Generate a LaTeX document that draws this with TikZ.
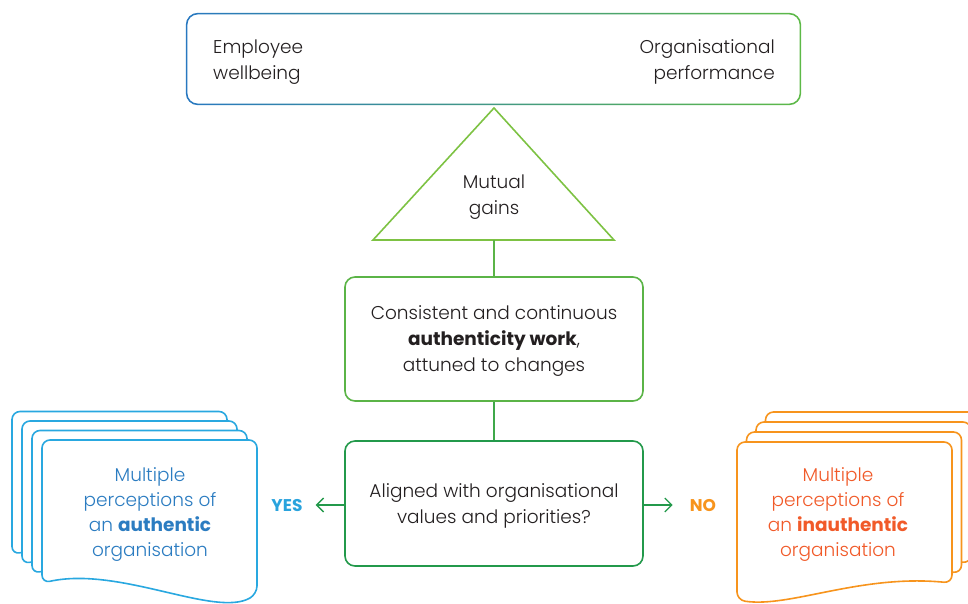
\documentclass[tikz,border=0pt]{standalone}
\usepackage{fontspec}
\setmainfont{Poppins}[UprightFont=* Light, BoldFont=* Bold]
\usetikzlibrary{arrows.meta}

\definecolor{textdark}{HTML}{231F20}
\definecolor{topblue}{HTML}{2878C0}
\definecolor{topgreen}{HTML}{5DB947}
\definecolor{trigreen}{HTML}{7DC243}
\definecolor{workgreen}{HTML}{5BB447}
\definecolor{linegreen}{HTML}{3FA84A}
\definecolor{alignedgreen}{HTML}{23994B}
\definecolor{blueedge}{HTML}{29A8E0}
\definecolor{bluetext}{HTML}{2B7CC1}
\definecolor{yesblue}{HTML}{29A3DD}
\definecolor{orangeedge}{HTML}{F7941D}
\definecolor{orangetext}{HTML}{F15A29}

\tikzset{
    box/.style={rectangle, rounded corners=10pt, line width=1.6pt, minimum width=298pt, minimum height=124pt, align=center, fill=white, text depth=-6pt},
    page/.style={fill=white, line width=1.6pt, rounded corners=8pt},
    pagetext/.style={align=center, font=\fontsize{18.5}{25}\selectfont},
    answer/.style={font=\fontsize{17}{20}\selectfont\bfseries, inner sep=0pt},
    arr/.style={-{Straight Barb[length=7pt,width=14pt]}, line width=1.3pt, draw=alignedgreen}
}

\begin{document}
\begin{tikzpicture}[x=1pt,y=-1pt, font=\fontsize{18.5}{26}\selectfont, text=textdark]
    \useasboundingbox (0,0) rectangle (968,603);

    % stack of pages, left
    \foreach \i in {3,2,1,0}{
        \draw[page, draw=blueedge, shift={({-10*\i},{-9.5*\i})}]
            (257,594) .. controls (215,618) and (120,566) .. (42,583)
            -- (42,440) -- (257,440) -- cycle;
    }
    % stack of pages, right
    \foreach \i in {3,2,1,0}{
        \draw[page, draw=orangeedge, shift={({9.5*\i},{-10*\i})}]
            (737,600) .. controls (790,608) and (860,574) .. (952,583)
            -- (952,442) -- (737,442) -- cycle;
    }
    \node[pagetext, text=bluetext] (authentic) at (150,515) {Multiple\\perceptions of\\an \textbf{authentic}\\organisation};
    \node[pagetext, text=orangetext] (inauthentic) at (838,515) {Multiple\\perceptions of\\an \textbf{inauthentic}\\organisation};

    % top box
    \node[rectangle, minimum width=615pt, minimum height=92pt] (outcomes) at (493.5,59) {};
    \shade[left color=topblue, right color=topgreen, even odd rule, rounded corners=12pt]
        (outcomes.north west) rectangle (outcomes.south east)
        [rounded corners=10.4pt] ([shift={(1.6,1.6)}]outcomes.north west) rectangle ([shift={(-1.6,-1.6)}]outcomes.south east);
    \node[anchor=west, align=left, inner sep=0pt] (wellbeing) at (213,62) {Employee\\wellbeing};
    \node[anchor=east, align=right, inner sep=0pt] (performance) at (775,62) {Organisational\\performance};

    % triangle
    \coordinate (apex) at (494,108);
    \coordinate (base) at (494,240);
    \draw[trigreen, line width=1.6pt, line join=miter] (apex) -- (373,240) -- (614,240) -- cycle;
    \node[align=center] (mutual) at (494,197) {Mutual\\gains};

    % boxes
    \node[box, draw=workgreen] (work) at (494,339) {Consistent and continuous\\\textbf{authenticity work},\\attuned to changes};
    \node[box, draw=alignedgreen, minimum height=125pt] (aligned) at (494,503.5) {Aligned with organisational\\values and priorities?};

    \draw[workgreen, line width=1.6pt] (base) -- (work.north);
    \draw[linegreen, line width=1.6pt] (work.south) -- (aligned.north);

    % answers
    \node[answer, text=yesblue] (yes) at (287,505) {YES};
    \node[answer, text=orangeedge] (no) at (703,505) {NO};
    \draw[arr, shorten >=13pt] (aligned.west |- yes) -- (yes.east);
    \draw[arr, shorten >=17pt] (aligned.east |- no) -- (no.west);
\end{tikzpicture}
\end{document}
